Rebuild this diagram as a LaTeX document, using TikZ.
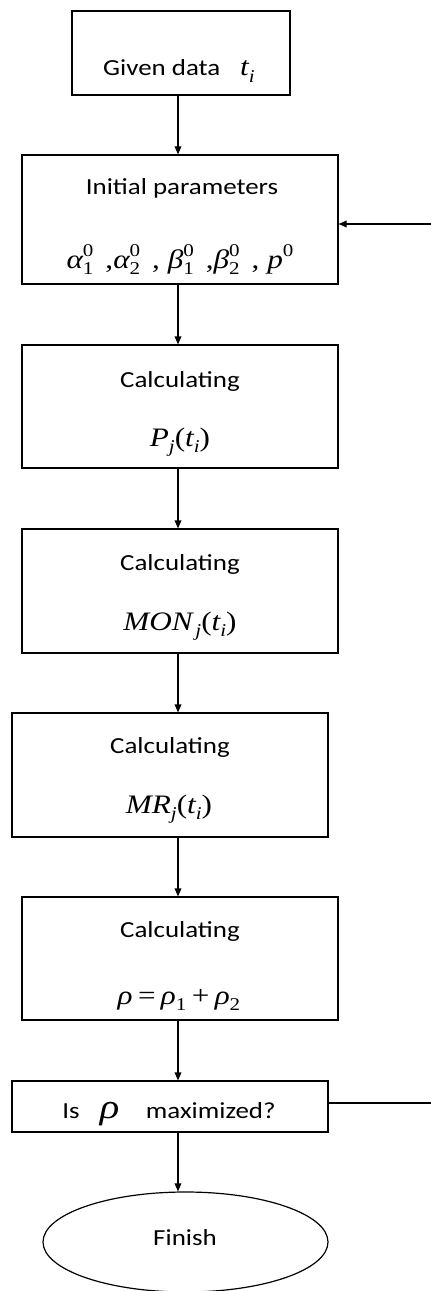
\documentclass[tikz,border=0pt]{standalone}
\usepackage{fontspec}
\setmainfont{Carlito}[FakeStretch=1.17]
\newfontfamily\tms{Liberation Serif}[FakeStretch=1.17]
\usetikzlibrary{arrows.meta,shapes.geometric}
\newcommand\ssz{\fontsize{13.5}{13.5}\selectfont}
\newcommand\vi[1]{{\tms\itshape #1}}
\newcommand\up[1]{{\tms #1}}
\newcommand\Sb[1]{\raisebox{-5pt}{\ssz\tms #1}}
\newcommand\SbSp[2]{\makebox[0pt][l]{\raisebox{8.5pt}{\ssz\tms #2}}\raisebox{-5pt}{\ssz\tms #1}}
\tikzset{
  box/.style={draw, line width=0.9pt, rectangle, inner sep=0pt},
  oval/.style={draw, line width=0.9pt, ellipse, inner sep=0pt},
  txt/.style={anchor=base, inner sep=0pt, font=\fontsize{17.25}{20}\selectfont},
  mtxt/.style={anchor=base, inner sep=0pt, font=\fontsize{20}{22}\selectfont\tms},
  arr/.style={line width=0.9pt, -{Triangle[length=6pt,width=5pt]}},
  conn/.style={line width=0.9pt}
}
\begin{document}
\begin{tikzpicture}[x=0.75pt,y=-0.75pt]
\useasboundingbox (0,0) rectangle (431,1291);
% boxes
\node[box, minimum width=163.5pt, minimum height=63pt] (b1) at (181,53) {};
\node[box, minimum width=237pt, minimum height=96.75pt] (b2) at (180,219.5) {};
\node[box, minimum width=237pt, minimum height=92.25pt] (b3) at (180,406.5) {};
\node[box, minimum width=237pt, minimum height=93pt] (b4) at (180,591) {};
\node[box, minimum width=237pt, minimum height=93pt] (b5) at (170,775) {};
\node[box, minimum width=237pt, minimum height=92.25pt] (b6) at (180,958.5) {};
\node[box, minimum width=237pt, minimum height=38.25pt] (b7) at (170,1106.5) {};
\node[oval, minimum width=213.75pt, minimum height=75pt] (fin) at (185.5,1242) {};
% texts
\node[txt] (t1) at (179,76) {Given data\hspace{15pt}{\fontsize{20}{22}\selectfont\vi{t}\Sb{\itshape i}}};
\node[txt] (t2a) at (182,195) {Initial parameters};
\node[mtxt] (t2b) at (180,268) {\vi{α}\SbSp{1}{0}\hspace{9pt},\vi{α}\SbSp{2}{0}\hspace{9pt}, \vi{β}\SbSp{1}{0}\hspace{9pt},\vi{β}\SbSp{2}{0}\hspace{9pt}, \vi{p}\raisebox{8.5pt}{\ssz 0}};
\node[txt] (t3a) at (180,387) {Calculating};
\node[mtxt] (t3b) at (180,446) {\vi{P}\Sb{\itshape j}\up{(}\vi{t}\Sb{\itshape i}\up{)}};
\node[txt] (t4a) at (180,570) {Calculating};
\node[mtxt] (t4b) at (180,630) {\vi{MON}\hspace{2pt}\Sb{\itshape j}\up{(}\vi{t}\Sb{\itshape i}\up{)}};
\node[txt] (t5a) at (170,753) {Calculating};
\node[mtxt] (t5b) at (169,813) {\vi{MR}\Sb{\itshape j}\up{(}\vi{t}\Sb{\itshape i}\up{)}};
\node[txt] (t6a) at (180,937) {Calculating};
\node[mtxt] (t6b) at (179,1004) {\vi{ρ}\hspace{4pt}=\hspace{4pt}\vi{ρ}\Sb{1}\hspace{4pt}+\hspace{4pt}\vi{ρ}\Sb{2}};
\node[txt] (t7) at (169,1118) {Is\hspace{15pt}{\fontsize{26}{26}\selectfont\vi{ρ}}\hspace{20pt}maximized?};
\node[txt] (t8) at (185,1245) {Finish};
% connectors
\coordinate (ax) at (178,0);
\draw[arr] (b1.south -| ax) -- (b2.north -| ax);
\draw[arr] (b2.south -| ax) -- (b3.north -| ax);
\draw[arr] (b3.south -| ax) -- (b4.north -| ax);
\draw[arr] (b4.south -| ax) -- (b5.north -| ax);
\draw[arr] (b5.south -| ax) -- (b6.north -| ax);
\draw[arr] (b6.south -| ax) -- (b7.north -| ax);
\draw[arr] (b7.south -| ax) -- (fin.north -| ax);
\coordinate (fbin) at (431,224);
\coordinate (fbout) at (431,1103);
\draw[arr] (fbin) -- (b2.east |- fbin);
\draw[conn] (b7.east |- fbout) -- (fbout);
\end{tikzpicture}
\end{document}
